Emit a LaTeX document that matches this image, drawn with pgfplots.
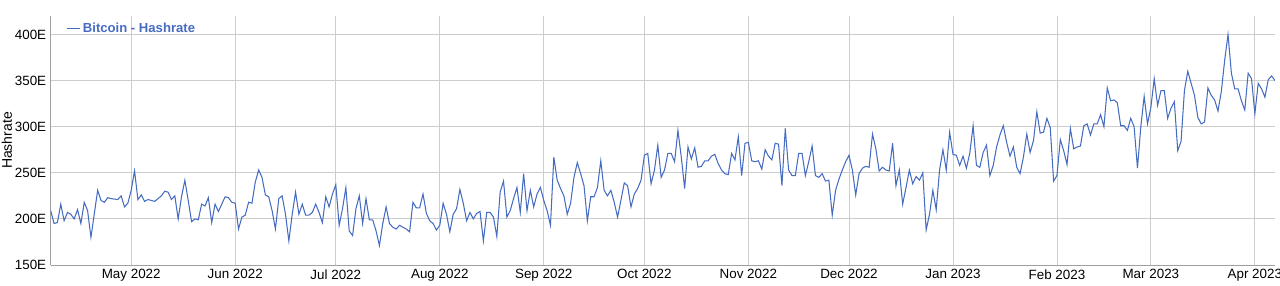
\documentclass[border=0pt]{standalone}
\usepackage{pgfplots}
\pgfplotsset{compat=1.18}
\usepackage{fontspec}
\setmainfont{Liberation Sans}
\definecolor{lineblue}{RGB}{70,108,194}
\definecolor{gridgray}{RGB}{205,205,205}
\definecolor{axisgray}{RGB}{160,160,160}
\begin{document}
\begin{tikzpicture}
\path[use as bounding box] (-50.7pt,-20pt) rectangle (1229.3pt,265pt);
\begin{axis}[
  name=ax,
  at={(0,0)}, anchor=south west,
  scale only axis,
  width=1224.3pt, height=249pt,
  xmin=-24, xmax=341,
  ymin=150, ymax=420,
  axis x line=bottom, axis y line=left,
  axis line style={draw=axisgray, line width=0.8pt, -},
  xtick={0,31,61,92,123,153,184,214,245,276,304,335},
  xticklabels={May 2022,Jun 2022,Jul 2022,Aug 2022,Sep 2022,Oct 2022,Nov 2022,Dec 2022,Jan 2023,Feb 2023,Mar 2023,Apr 2023},
  ytick={150,200,250,300,350,400},
  yticklabels={150E,200E,250E,300E,350E,400E},
  major tick length=0pt,
  xmajorgrids, ymajorgrids,
  grid style={draw=gridgray, line width=0.9pt},
  tick label style={font=\fontsize{13.4}{15}\selectfont, text=black},
  xticklabel style={yshift=-1pt},
  yticklabel style={xshift=-1pt},
  ylabel={Hashrate},
  ylabel style={font=\fontsize{14}{16}\selectfont, yshift=-4pt},
  legend style={at={(0,1)}, anchor=north west, xshift=14pt, yshift=-3pt, draw=none, fill=none, inner sep=2pt, font=\bfseries\fontsize{13.1}{15}\selectfont, text=lineblue, legend cell align=left},
  legend image code/.code={\draw[#1] (0pt,0pt) -- (13pt,0pt);},
  clip=true,
]
\addplot[lineblue, line width=1.05pt] table {
x y
-24 209
-23 195
-22 196
-21 216
-20 198
-19 207
-18 205
-17 200
-16 210
-15 195
-14 218
-13 209
-12 180
-10 231
-9 220
-8 218
-7 223
-6 222
-4 221
-3 225
-2 213
-1 217
0 231
1 252
2 221
3 226
4 219
5 221
7 219
9 225
10 230
11 229
12 221
13 225
14 200
15 224
16 242
17 220
18 197
19 200
20 199
21 216
22 214
23 223
24 196
25 216
26 208
27 216
28 224
29 223
30 218
31 217
32 189
33 202
34 204
35 218
36 217
37 240
38 253
39 245
40 226
41 224
42 209
43 189
44 222
45 225
46 205
47 176
48 205
49 229
50 205
51 216
52 204
53 204
54 207
55 216
56 207
57 196
58 224
59 213
60 227
61 237
62 193
63 211
64 234
65 187
66 182
67 211
68 225
69 195
70 222
71 199
72 199
73 187
74 171
75 195
76 213
77 195
78 191
79 189
80 193
81 191
82 189
83 186
84 218
85 212
86 212
87 227
88 206
89 198
90 195
91 188
92 193
93 217
94 205
95 186
96 205
97 211
98 232
99 217
100 198
101 207
102 200
103 206
104 208
105 176
106 207
107 207
108 202
109 181
110 229
111 241
112 202
113 209
114 222
115 234
116 207
117 249
118 209
119 231
120 213
121 227
122 234
123 220
124 209
125 193
126 267
127 242
128 233
129 225
130 205
131 217
132 245
133 261
134 249
135 236
136 198
137 224
138 224
139 234
140 263
141 231
142 225
143 231
144 218
145 202
146 220
147 239
148 236
149 213
150 227
151 233
152 242
153 269
154 271
155 238
156 253
157 280
158 245
159 253
160 271
161 271
162 262
163 296
164 267
165 233
166 278
167 265
168 277
169 256
170 257
171 263
172 263
173 268
174 270
175 260
176 253
177 249
178 248
179 271
180 264
181 289
182 247
183 282
184 283
185 263
186 262
187 263
188 254
189 275
190 268
191 264
192 282
193 281
194 236
195 298
196 253
197 247
198 247
199 271
200 271
201 247
202 262
203 279
204 247
205 245
206 249
207 241
208 242
209 204
210 231
211 243
212 253
213 262
214 269
215 253
216 226
217 249
218 255
219 257
220 256
221 292
222 276
223 252
224 256
225 253
226 252
227 282
228 236
229 253
230 216
231 234
232 253
233 238
234 246
235 242
236 250
237 188
238 205
239 231
240 210
241 253
242 275
243 253
244 294
245 270
246 269
247 258
248 268
249 255
250 271
251 301
252 258
253 256
254 272
255 280
256 247
257 258
258 278
259 291
260 301
261 283
262 268
263 278
264 256
265 249
266 267
267 292
268 272
269 285
270 316
271 293
272 294
273 309
274 299
275 241
276 247
277 286
278 274
279 259
280 298
281 276
282 278
283 279
284 301
285 303
286 291
287 303
288 303
289 313
290 300
291 342
292 328
293 329
294 326
295 301
296 301
297 296
298 309
299 300
300 255
301 300
302 333
303 303
304 321
305 352
306 323
307 339
308 339
309 309
310 320
311 327
312 274
313 284
314 339
315 360
316 347
317 334
318 310
319 303
320 305
321 342
322 334
323 329
324 317
325 338
326 372
327 400
328 358
329 341
330 341
331 328
332 318
333 358
334 352
335 314
336 347
337 341
338 332
339 351
340 355
341 350
};
\addlegendentry{Bitcoin - Hashrate}
\end{axis}
\end{tikzpicture}
\end{document}
